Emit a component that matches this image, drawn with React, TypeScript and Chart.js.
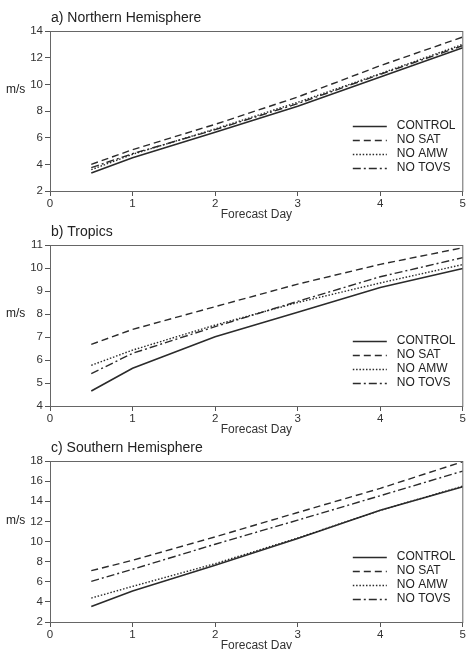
import React, { useEffect, useRef } from "react";
import { Chart, registerables } from "chart.js";

Chart.register(...registerables);

const FONT = '"Liberation Sans", Arial, Helvetica, sans-serif';

const DAYS = [0.5, 1, 2, 3, 4, 5];
const SERIES = ["CONTROL", "NO SAT", "NO AMW", "NO TOVS"];
const X_TICKS = [0, 1, 2, 3, 4, 5];

// a) Northern Hemisphere
const NH_CONTROL = [3.35, 4.5, 6.4, 8.35, 10.55, 12.75];
const NH_NOSAT = [4.0, 5.1, 7.0, 9.05, 11.4, 13.55];
const NH_NOAMW = [3.6, 4.75, 6.65, 8.65, 10.8, 13.0];
const NH_NOTOVS = [3.75, 4.8, 6.6, 8.55, 10.75, 12.9];

// b) Tropics
const TR_CONTROL = [4.65, 5.64, 7.01, 8.08, 9.15, 9.98];
const TR_NOSAT = [6.68, 7.33, 8.32, 9.3, 10.16, 10.88];
const TR_NOAMW = [5.77, 6.43, 7.52, 8.5, 9.35, 10.15];
const TR_NOTOVS = [5.41, 6.29, 7.45, 8.55, 9.62, 10.45];

// c) Southern Hemisphere
const SH_CONTROL = [3.55, 5.08, 7.64, 10.3, 13.1, 15.44];
const SH_NOSAT = [7.1, 8.13, 10.46, 12.88, 15.28, 17.93];
const SH_NOAMW = [4.38, 5.54, 7.8, 10.35, 13.1, 15.5];
const SH_NOTOVS = [6.04, 7.24, 9.73, 12.12, 14.55, 17.0];

const DASHES = [[], [7, 4], [1.5, 1.8], [8, 3, 2, 3]];
const LINE_COLOR = "#2b2b2b";

type Panel = {
  title: string;
  yMin: number;
  yMax: number;
  yStep: number;
  values: number[][];
  top: number;
  height: number;
  padTop: number;
  unitOffset: number;
};

const PANELS: Panel[] = [
  { title: "a) Northern Hemisphere", yMin: 2, yMax: 14, yStep: 2, values: [NH_CONTROL, NH_NOSAT, NH_NOAMW, NH_NOTOVS], top: 0, height: 222, padTop: 31, unitOffset: 59 },
  { title: "b) Tropics", yMin: 4, yMax: 11, yStep: 1, values: [TR_CONTROL, TR_NOSAT, TR_NOAMW, TR_NOTOVS], top: 222, height: 215, padTop: 23, unitOffset: 69 },
  { title: "c) Southern Hemisphere", yMin: 2, yMax: 18, yStep: 2, values: [SH_CONTROL, SH_NOSAT, SH_NOAMW, SH_NOTOVS], top: 437, height: 216, padTop: 24, unitOffset: 60 },
];

const decoPlugin = {
  id: "panelDeco",
  afterDraw(chart: any, _args: any, opts: any) {
    const { ctx, chartArea: a } = chart;
    ctx.save();
    ctx.strokeStyle = "#666";
    ctx.lineWidth = 1;
    ctx.setLineDash([]);
    ctx.strokeRect(a.left + 0.5, a.top + 0.5, a.right - a.left - 0.5, a.bottom - a.top);

    ctx.fillStyle = "#222";
    ctx.textBaseline = "middle";
    ctx.textAlign = "left";
    ctx.font = `14px ${FONT}`;
    ctx.fillText(opts.title, a.left + 1, a.top - 13);

    ctx.font = `12px ${FONT}`;
    ctx.fillText("m/s", 6, a.top + opts.unitOffset);

    const n = chart.data.datasets.length;
    chart.data.datasets.forEach((ds: any, i: number) => {
      const y = a.bottom - 23 - 14 * (n - 1 - i);
      ctx.strokeStyle = ds.borderColor;
      ctx.lineWidth = ds.borderWidth;
      ctx.setLineDash(ds.borderDash || []);
      ctx.beginPath();
      ctx.moveTo(a.right - 110, y + 0.5);
      ctx.lineTo(a.right - 76, y + 0.5);
      ctx.stroke();
      ctx.setLineDash([]);
      ctx.fillStyle = "#222";
      ctx.fillText(ds.label, a.right - 66, y);
    });
    ctx.restore();
  },
};

function PanelChart({ p }: { p: Panel }) {
  const ref = useRef<HTMLCanvasElement>(null);
  useEffect(() => {
    if (!ref.current) return;
    const chart = new Chart(ref.current, {
      type: "line",
      data: {
        datasets: SERIES.map((name, i) => ({
          label: name,
          data: DAYS.map((d, j) => ({ x: d, y: p.values[i][j] })),
          borderColor: LINE_COLOR,
          borderWidth: i === 0 ? 1.6 : 1.4,
          borderDash: DASHES[i],
          pointRadius: 0,
          fill: false,
          tension: 0,
        })),
      },
      options: {
        animation: false,
        responsive: false,
        devicePixelRatio: 1,
        layout: { padding: { top: p.padTop, left: 0, right: 4, bottom: 0 } },
        plugins: {
          legend: { display: false },
          tooltip: { enabled: false },
          panelDeco: { title: p.title, unitOffset: p.unitOffset },
        } as any,
        scales: {
          x: {
            type: "linear",
            min: 0,
            max: 5,
            afterBuildTicks: (s: any) => {
              s.ticks = X_TICKS.map((v) => ({ value: v }));
            },
            afterFit: (s: any) => {
              s.height = 31;
            },
            ticks: { font: { family: FONT, size: 11.5 }, color: "#333", padding: 1, maxRotation: 0 },
            grid: { display: true, drawOnChartArea: false, drawTicks: true, tickLength: 5, color: "#555" },
            border: { display: false },
            title: { display: true, text: "Forecast Day", font: { family: FONT, size: 12 }, color: "#333", padding: 0 },
          },
          y: {
            type: "linear",
            min: p.yMin,
            max: p.yMax,
            ticks: { stepSize: p.yStep, font: { family: FONT, size: 11.5 }, color: "#333", padding: 2 },
            afterFit: (s: any) => {
              s.width = 50;
            },
            grid: { display: true, drawOnChartArea: false, drawTicks: true, tickLength: 5, color: "#555" },
            border: { display: false },
          },
        },
      },
      plugins: [decoPlugin],
    });
    return () => chart.destroy();
  }, [p]);
  return (
    <canvas
      ref={ref}
      width={467}
      height={p.height}
      style={{ position: "absolute", left: 0, top: p.top, width: 467, height: p.height }}
    />
  );
}

export default function App() {
  return (
    <div
      style={{
        position: "fixed",
        left: 0,
        top: 0,
        width: 467,
        height: 649,
        overflow: "hidden",
        background: "#fff",
      }}
    >
      {PANELS.map((p) => (
        <PanelChart key={p.title} p={p} />
      ))}
    </div>
  );
}
